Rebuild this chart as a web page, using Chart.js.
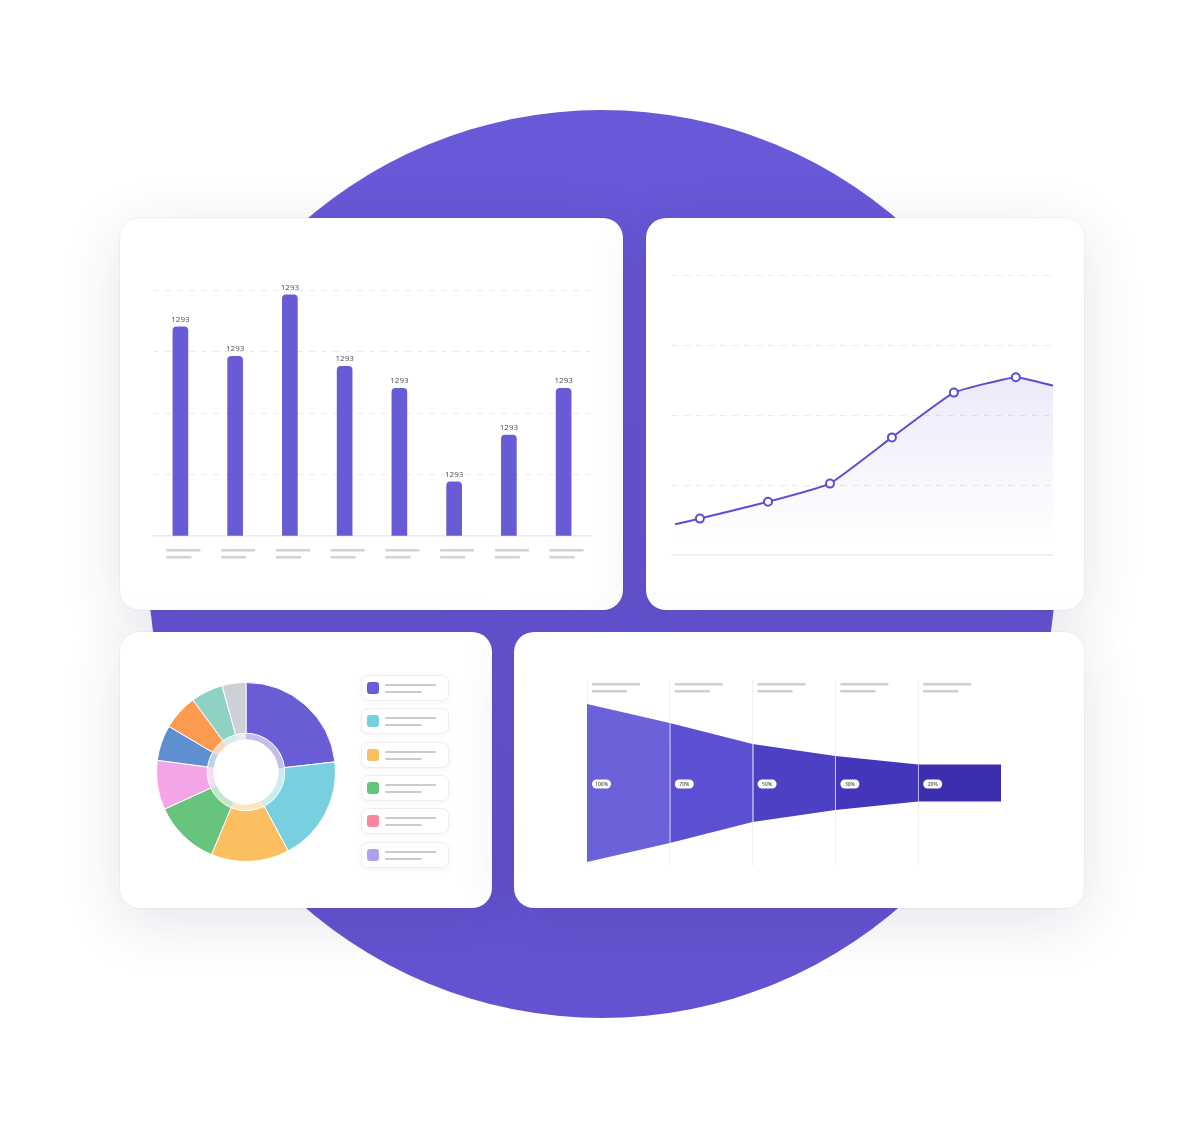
<!DOCTYPE html>
<html>
<head>
<meta charset="utf-8">
<script src="https://cdn.jsdelivr.net/npm/chart.js@4.4.1/dist/chart.umd.min.js"></script>
<style>
  html, body { margin:0; padding:0; background:#fff; }
  body { width:1204px; height:1128px; position:relative; overflow:hidden; font-family:"Open Sans", sans-serif; }
  .blob { position:absolute; left:148px; top:110px; width:908px; height:908px; border-radius:50%;
          background:linear-gradient(180deg,#6859d8 0%,#6353d0 100%); }
  .card { position:absolute; background:#fff; border-radius:20px;
          box-shadow:0 14px 60px rgba(40,30,90,0.12), 0 0 0 1px rgba(0,0,0,0.035); }
  .card canvas { position:absolute; }
  .legend { position:absolute; left:241px; top:43px; }
  .item { position:absolute; left:0; width:86px; height:24px; border:1px solid #eeeef2; border-radius:7px;
          box-shadow:0 2px 6px rgba(0,0,0,0.04); background:#fff; }
  .item .sw { position:absolute; left:5px; top:6px; width:12px; height:12px; border-radius:3px; }
  .item .l1, .item .l2 { position:absolute; left:23px; height:2px; background:#cbcbcf; border-radius:1px; }
  .item .l1 { top:8px; width:51px; }
  .item .l2 { top:15px; width:37px; }
</style>
</head>
<body>
<div class="blob"></div>

<div class="card" style="left:120px;top:218px;width:503px;height:392px;">
  <canvas id="barChart" width="503" height="392" style="left:0;top:0"></canvas>
</div>
<div class="card" style="left:646px;top:218px;width:438px;height:392px;">
  <canvas id="lineChart" width="438" height="392" style="left:0;top:0"></canvas>
</div>
<div class="card" style="left:120px;top:632px;width:372px;height:276px;">
  <canvas id="pieChart" width="180" height="180" style="left:36px;top:50px"></canvas>
  <div class="legend" id="legend"></div>
</div>
<div class="card" style="left:514px;top:632px;width:570px;height:276px;">
  <canvas id="funnelChart" width="570" height="276" style="left:0;top:0"></canvas>
</div>

<script>
// bar card
const barCategories = ["1", "2", "3", "4", "5", "6", "7", "8"];
const barValues = [85, 73, 98, 69, 60, 22, 41, 60];
const barLabels = ["1293", "1293", "1293", "1293", "1293", "1293", "1293", "1293"];

// line card
const lineX = [0, 0.4, 1.5, 2.5, 3.5, 4.5, 5.5, 6.1];
const lineY = [11, 13, 19, 25.5, 42, 58, 63.5, 60.5];

// doughnut card
const pieShares = [23.2, 19, 14.1, 11.9, 8.9, 6.4, 6.4, 5.8, 4.3];
const pieColors = ["#695dd5", "#77cfe0", "#fbbf60", "#66c47d", "#f3a5e8", "#5e8fd0", "#fc9a4f", "#90d1c5", "#cdd0d6"];
const legendColors = ["#695dd5", "#77cfe0", "#fbbf60", "#66c47d", "#f8869c", "#aaa1ef"];

// funnel card
const funnelStages = ["100%", "70%", "50%", "30%", "20%"];
const funnelEdges = [79, 60, 39, 27, 18.5, 18.5];
const funnelColors = ["#6b62d9", "#5a50d1", "#4c41c5", "#4336ba", "#3c2fae"];

const PURPLE = "#685cd6";

// labels above bars + grey placeholder lines under the axis
const barExtras = {
  id: "barExtras",
  afterDatasetsDraw(chart) {
    const ctx = chart.ctx;
    const meta = chart.getDatasetMeta(0);
    const bottom = chart.chartArea.bottom;
    ctx.save();
    ctx.font = "8px 'Open Sans'";
    ctx.textAlign = "center";
    meta.data.forEach((bar, i) => {
      ctx.fillStyle = "#4a4a4a";
      ctx.fillText(barLabels[i], bar.x, bar.y - 5);
      ctx.fillStyle = "#d2d2d5";
      ctx.fillRect(bar.x - 14, bottom + 13, 34, 2.5);
      ctx.fillRect(bar.x - 14, bottom + 20, 25, 2.5);
    });
    ctx.restore();
  }
};

new Chart(document.getElementById("barChart"), {
  type: "bar",
  data: {
    labels: barCategories,
    datasets: [{
      data: barValues,
      backgroundColor: PURPLE,
      barThickness: 15,
      borderRadius: { topLeft: 4, topRight: 4 },
      borderSkipped: "bottom"
    }]
  },
  options: {
    responsive: false,
    animation: false,
    layout: { padding: { left: 33, right: 32, top: 72, bottom: 66 } },
    plugins: { legend: { display: false }, tooltip: { enabled: false } },
    scales: {
      x: {
        ticks: { display: false },
        grid: { display: false },
        border: { color: "#ececf0", width: 1.5 }
      },
      y: {
        min: 0, max: 100,
        ticks: { display: false, stepSize: 25 },
        grid: { drawTicks: false, color: ctx => ctx.tick.value === 0 ? "transparent" : "#ebebee" },
        border: { display: false, dash: [6, 6] }
      }
    }
  },
  plugins: [barExtras]
});

new Chart(document.getElementById("lineChart"), {
  type: "line",
  data: {
    datasets: [{
      data: lineX.map((x, i) => ({ x: x, y: lineY[i] })),
      borderColor: "#5b4fd0",
      borderWidth: 2,
      tension: 0.12,
      fill: "start",
      backgroundColor: (c) => {
        const area = c.chart.chartArea;
        if (!area) return "rgba(104,92,214,0.08)";
        const g = c.chart.ctx.createLinearGradient(0, area.top + 100, 0, area.bottom - 10);
        g.addColorStop(0, "rgba(104,92,214,0.13)");
        g.addColorStop(1, "rgba(104,92,214,0)");
        return g;
      },
      pointRadius: c => (c.dataIndex === 0 || c.dataIndex === lineX.length - 1) ? 0 : 4,
      pointBackgroundColor: "#fff",
      pointBorderColor: "#5b4fd0",
      pointBorderWidth: 2
    }]
  },
  options: {
    responsive: false,
    animation: false,
    layout: { padding: { left: 26, right: 31, top: 57, bottom: 47 } },
    plugins: { legend: { display: false }, tooltip: { enabled: false } },
    scales: {
      x: {
        type: "linear", min: -0.05, max: 6.1,
        ticks: { display: false },
        grid: { display: false },
        border: { color: "#ececf0", width: 1.5 }
      },
      y: {
        min: 0, max: 100,
        ticks: { display: false, stepSize: 25 },
        grid: { drawTicks: false, color: ctx => ctx.tick.value === 0 ? "transparent" : "#eaeaee" },
        border: { display: false, dash: [6, 6] }
      }
    }
  }
});

new Chart(document.getElementById("pieChart"), {
  type: "doughnut",
  data: {
    datasets: [
      { data: pieShares, backgroundColor: pieColors, borderColor: "#fff", borderWidth: 1, weight: 8.4 },
      { data: pieShares, backgroundColor: pieColors.map(c => c + "66"), borderWidth: 0, weight: 1 }
    ]
  },
  options: {
    responsive: false,
    animation: false,
    cutout: "36.5%",
    plugins: { legend: { display: false }, tooltip: { enabled: false } }
  }
});

// legend boxes (no text in the picture, only placeholder lines)
const legend = document.getElementById("legend");
legendColors.forEach((c, i) => {
  const d = document.createElement("div");
  d.className = "item";
  d.style.top = (i * 33.3) + "px";
  d.innerHTML = '<div class="sw" style="background:' + c + '"></div><div class="l1"></div><div class="l2"></div>';
  legend.appendChild(d);
});

// funnel separators, header placeholders and % pills
const funnelExtras = {
  id: "funnelExtras",
  afterDatasetsDraw(chart) {
    const ctx = chart.ctx;
    const xs = chart.scales.x, ys = chart.scales.y;
    ctx.save();
    for (let i = 1; i < funnelStages.length; i++) {
      const x = Math.round(xs.getPixelForValue(i)) + 0.5;
      ctx.strokeStyle = "rgba(255,255,255,0.45)";
      ctx.lineWidth = 1;
      ctx.beginPath();
      ctx.moveTo(x, ys.getPixelForValue(funnelEdges[i]));
      ctx.lineTo(x, ys.getPixelForValue(-funnelEdges[i]));
      ctx.stroke();
    }
    funnelStages.forEach((s, i) => {
      const x0 = xs.getPixelForValue(i);
      const top = chart.chartArea.top;
      ctx.fillStyle = "#cfcfd3";
      ctx.fillRect(x0 + 5, top + 3, 48, 2.5);
      ctx.fillRect(x0 + 5, top + 10, 35, 2.5);
      const yc = ys.getPixelForValue(0) + 1;
      ctx.fillStyle = "#fff";
      ctx.beginPath();
      ctx.roundRect(x0 + 5, yc - 4.5, 19, 9, 4.5);
      ctx.fill();
      ctx.fillStyle = "#555";
      ctx.font = "600 5px 'Open Sans'";
      ctx.textAlign = "center";
      ctx.textBaseline = "middle";
      ctx.fillText(s, x0 + 14.5, yc + 0.3);
    });
    ctx.restore();
  }
};

new Chart(document.getElementById("funnelChart"), {
  type: "line",
  data: {
    datasets: [
      {
        data: funnelEdges.map((h, i) => ({ x: i, y: h })),
        fill: "+1",
        borderWidth: 0,
        pointRadius: 0,
        backgroundColor: funnelColors[0],
        segment: { backgroundColor: c => funnelColors[c.p0DataIndex] }
      },
      {
        data: funnelEdges.map((h, i) => ({ x: i, y: -h })),
        fill: false,
        borderWidth: 0,
        pointRadius: 0
      }
    ]
  },
  options: {
    responsive: false,
    animation: false,
    layout: { padding: { left: 73, right: 83, top: 48, bottom: 42 } },
    plugins: { legend: { display: false }, tooltip: { enabled: false } },
    scales: {
      x: {
        type: "linear", min: 0, max: 5,
        ticks: { display: false, stepSize: 1 },
        grid: { drawTicks: false, color: c => c.tick.value < 5 ? "#f1f1f3" : "transparent" },
        border: { display: false }
      },
      y: {
        min: -83, max: 103,
        display: false
      }
    }
  },
  plugins: [funnelExtras]
});
</script>
</body>
</html>
